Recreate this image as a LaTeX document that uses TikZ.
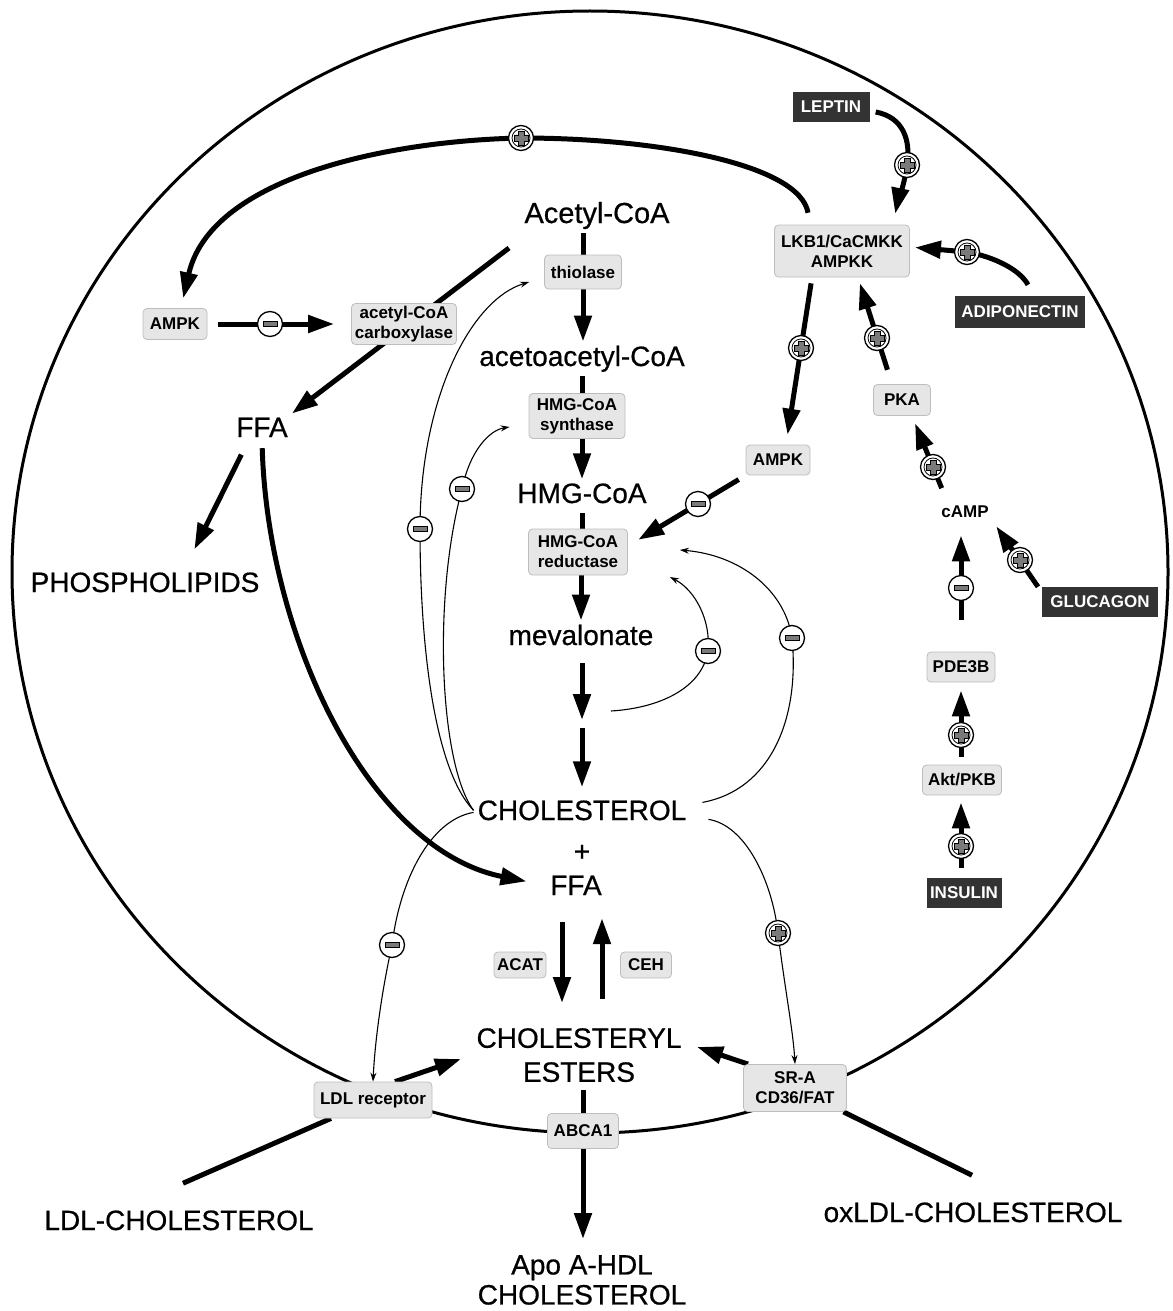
\documentclass[tikz,border=0pt]{standalone}
\usepackage{fontspec}
\setmainfont{Liberation Sans}
\newfontfamily\labfont{Liberation Sans}[FakeBold=0.6]
\usetikzlibrary{arrows.meta,calc}
\definecolor{boxfill}{HTML}{E6E6E6}
\definecolor{boxline}{HTML}{BDBDBD}
\definecolor{darkbox}{HTML}{333333}
\definecolor{markgray}{HTML}{7A7A7A}
\pgfdeclarelayer{bg}
\pgfsetlayers{bg,main}
\tikzset{
  lab/.style={font=\labfont\fontsize{28}{34}\selectfont, inner sep=4pt},
  bx/.style={draw=boxline, fill=boxfill, rounded corners=4pt, line width=0.8pt,
    font=\fontsize{17}{20}\selectfont\bfseries, align=center, inner sep=0pt},
  dbx/.style={fill=darkbox, text=white, font=\fontsize{17}{20}\selectfont\bfseries, inner sep=0pt},
  thk/.style={line width=5pt},
  thka/.style={line width=5pt, -{Triangle[length=26pt,width=17pt]}},
  thinarr/.style={line width=1.1pt, -{Stealth[length=9pt,width=6pt]}},
  membrane/.style={line width=3pt},
  plusmark/.style={circle, draw, line width=1.3pt, fill=white, minimum size=25pt, inner sep=0pt,
    path picture={
      \draw[line width=0.8pt] (path picture bounding box.center) circle[radius=9pt];
      \draw[line width=0.8pt, fill=markgray, shift={(path picture bounding box.center)}]
        (-3,-7) -- (3,-7) -- (3,-3) -- (7,-3) -- (7,3) -- (3,3) -- (3,7) -- (-3,7) -- (-3,3) -- (-7,3) -- (-7,-3) -- (-3,-3) -- cycle;}},
  minusmark/.style={circle, draw, line width=1.3pt, fill=white, minimum size=25pt, inner sep=0pt,
    path picture={
      \draw[line width=0.8pt, fill=markgray, shift={(path picture bounding box.center)}]
        (-7,-2.5) rectangle (7,2.5);}},
}
\begin{document}
\begin{tikzpicture}[x=1pt,y=-1pt]
\useasboundingbox (0,0) rectangle (1172,1311);

% ---- text labels
\node[lab, anchor=base, font=\labfont\fontsize{29}{34}\selectfont] (acetyl) at (597,223) {Acetyl-CoA};
\node[lab, anchor=base] (acac) at (582,366) {acetoacetyl-CoA};
\node[lab, anchor=base] (hmg) at (582,503) {HMG-CoA};
\node[lab, anchor=base] (mev) at (581,645) {mevalonate};
\node[lab, anchor=base] (chol) at (582,820) {CHOLESTEROL};
\node[lab, anchor=base] (plussign) at (582,861) {+};
\node[lab, anchor=base] (ffaC) at (576,895) {FFA};
\node[lab, anchor=north, align=center] (chE) at (579,1024) {CHOLESTERYL\\ESTERS};
\node[lab, anchor=north, align=center, font=\labfont\fontsize{28}{30}\selectfont] (apo) at (582,1251) {Apo A-HDL\\CHOLESTEROL};
\node[lab, anchor=base] (ffaL) at (262,437) {FFA};
\node[lab, anchor=base] (phos) at (145,592) {PHOSPHOLIPIDS};
\node[lab, anchor=base] (ldlc) at (179,1230) {LDL-CHOLESTEROL};
\node[lab, anchor=base] (oxldl) at (973,1222) {oxLDL-CHOLESTEROL};
\node[lab, anchor=base, font=\fontsize{17}{20}\selectfont\bfseries] (camp) at (965,517) {cAMP};

% ---- boxes
\node[bx, minimum width=77pt, minimum height=34pt] (thiol) at (583,272) {thiolase};
\node[bx, minimum width=96pt, minimum height=45pt] (synth) at (577,416) {HMG-CoA\\synthase};
\node[bx, minimum width=99pt, minimum height=46pt] (red) at (578,552) {HMG-CoA\\reductase};
\node[bx, minimum width=105pt, minimum height=41pt] (carb) at (404,324) {acetyl-CoA\\carboxylase};
\node[bx, minimum width=64pt, minimum height=31pt] (ampkL) at (175,324) {AMPK};
\node[bx, minimum width=135pt, minimum height=52pt] (lkb) at (842,251) {LKB1/CaCMKK\\AMPKK};
\node[dbx, minimum width=77pt, minimum height=30pt] (leptin) at (831,107) {LEPTIN};
\node[dbx, minimum width=130pt, minimum height=32pt] (adip) at (1020,312) {ADIPONECTIN};
\node[bx, minimum width=64pt, minimum height=30pt] (ampkR) at (778,460) {AMPK};
\node[bx, minimum width=57pt, minimum height=31pt] (pka) at (902,400) {PKA};
\node[dbx, minimum width=116pt, minimum height=30pt] (gluc) at (1100,602) {GLUCAGON};
\node[bx, minimum width=68pt, minimum height=30pt] (pde) at (961,667) {PDE3B};
\node[bx, minimum width=79pt, minimum height=30pt] (akt) at (962,780) {Akt/PKB};
\node[dbx, minimum width=75pt, minimum height=30pt] (ins) at (964,893) {INSULIN};
\node[bx, minimum width=52pt, minimum height=26pt] (acat) at (520,965) {ACAT};
\node[bx, minimum width=51pt, minimum height=26pt] (ceh) at (646,965) {CEH};
\node[bx, minimum width=118pt, minimum height=36pt] (ldlr) at (373,1100) {LDL receptor};
\node[bx, minimum width=103pt, minimum height=47pt] (sra) at (795,1088) {SR-A\\CD36/FAT};
\node[bx, minimum width=71pt, minimum height=35pt] (abca) at (583,1131) {ABCA1};

% ---- helper coordinates
\coordinate (gap) at (582,724);
\coordinate (acL) at (509,248);
\path ($(ffaC.south)+(-14,0)$) coordinate (acatS) ($(ffaC.south)+(26,0)$) coordinate (cehS);

% ---- markers
\node[plusmark] (m1) at (521,138) {};
\node[plusmark] (m2) at (907,165) {};
\node[plusmark] (m3) at (967,252) {};
\node[plusmark] (m4) at (801,348) {};
\node[plusmark] (m5) at (877,338) {};
\node[plusmark] (m6) at (933,467) {};
\node[plusmark] (m7) at (1020,560) {};
\node[minusmark] (m8) at (961,588) {};
\node[plusmark] (m9) at (961,735) {};
\node[plusmark] (m10) at (961,846) {};
\node[minusmark] (m11) at (270,324) {};
\node[minusmark] (m12) at (698,504) {};
\node[minusmark] (m13) at (420,529) {};
\node[minusmark] (m14) at (462,489) {};
\node[minusmark] (m15) at (708,651) {};
\node[minusmark] (m16) at (792,638) {};
\node[minusmark] (m17) at (392,945) {};
\node[plusmark] (m18) at (778,933) {};

\begin{pgfonlayer}{bg}
\draw[membrane] (590,572) ellipse [x radius=578pt, y radius=561pt];

% main pathway
\draw[thk] (thiol.north |- acetyl.south) -- (thiol.north);
\draw[thka] (thiol.south) -- (thiol.south |- acac.north);
\draw[thk] (acac.south) -- (acac.south |- synth.north);
\draw[thka] (synth.south -| hmg.north) -- (hmg.north);
\draw[thk, shorten <=6pt] (hmg.south) -- (hmg.south |- red.north);
\draw[thka] (red.south -| mev.north) -- (mev.north);
\draw[thka, shorten <=14pt] (mev.south -| gap) -- ([yshift=4pt]gap);
\draw[thka, shorten >=9pt] ([yshift=-4pt]gap) -- (gap |- chol.north);
\draw[thka, shorten <=23pt, shorten >=21pt] (acatS) -- (acatS |- chE.north);
\draw[thka, shorten <=25pt, shorten >=19pt] (cehS |- chE.north) -- (cehS);
\draw[thka, shorten <=4pt, shorten >=12pt] (chE.south -| abca.north) -- (abca.south |- apo.north);

% acetyl-CoA -> FFA
\draw[thka] (acL) -- (ffaL.north east);
\draw[thka, shorten <=15pt, shorten >=21pt] ([xshift=-14pt]ffaL.south) -- ([xshift=40pt]phos.north);
\draw[thka, shorten <=7pt, shorten >=20pt] (ffaL.south) .. controls (268,640) and (370,850) .. (ffaC.west);
\draw[thka, shorten <=11pt, shorten >=17pt] (ampkL.east) -- (carb.west);

% LKB1 arc to AMPK
\draw[thka, shorten <=12pt, shorten >=10pt] ([xshift=-32pt]lkb.north) .. controls (800,165) and (660,138) .. (521,138) .. controls (380,141) and (210,180) .. ([xshift=6pt]ampkL.north);

% hormone signalling
\draw[thka, shorten >=11pt] ([xshift=6pt,yshift=-5pt]leptin.east) .. controls (903,117) and (911,140) .. (907,165) .. controls (904,187) and (897,205) .. ([xshift=51pt]lkb.north);
\draw[thka, shorten >=5pt] ([xshift=8pt,yshift=11pt]adip.north) .. controls (1020,270) and (995,257) .. (967,252) -- ([yshift=4pt]lkb.east);
\draw[thka, shorten <=6pt, shorten >=10pt] ([xshift=-30pt]lkb.south) -- ([xshift=8pt]ampkR.north);
\draw[thka, shorten <=15pt, shorten >=6pt] ([xshift=-10pt]pka.north) -- ([xshift=16pt]lkb.south);
\draw[thka, shorten <=14pt, shorten >=8pt] ([xshift=-18pt]camp.north) -- ([xshift=10pt]pka.south);
\draw[thka, shorten >=6pt] ([xshift=-62pt]gluc.north) -- (camp.south east);
\draw[thka, shorten <=32pt, shorten >=14pt] (pde.north) -- (pde.north |- camp.south);
\draw[thka, shorten <=8pt, shorten >=8pt] (akt.north -| pde.north) -- (pde.south);
\draw[thka, shorten <=10pt, shorten >=7pt] (ins.north -| pde.north) -- (akt.south -| pde.north);
\draw[thka, shorten <=8pt, shorten >=12pt] (ampkR.south west) -- ([yshift=6pt]red.east);

% membrane transport
\draw[thk] ([xshift=4pt,yshift=23pt]ldlc.north) -- (ldlr);
\draw[thk] ([xshift=-1pt,yshift=23pt]oxldl.north) -- (sra);
\draw[thka, shorten >=12pt] ([xshift=22pt]ldlr.north) -- (chE.west);
\draw[thka, shorten >=12pt] ([xshift=-47pt]sra.north) -- ([yshift=12pt]chE.east);

% thin feedback curves
\draw[thinarr] (chol.west) .. controls (435,770) and (420,650) .. (420,529) .. controls (420,400) and (470,300) .. ([xshift=-15pt,yshift=-10pt]thiol.west);
\draw[thinarr] (chol.west) .. controls (440,765) and (432,600) .. (462,489) .. controls (470,450) and (490,430) .. ([xshift=-19pt,yshift=-11pt]synth.west);
\draw[thinarr] ([yshift=-2pt]chol.west) .. controls (430,820) and (400,880) .. (392,945) .. controls (382,990) and (375,1040) .. (ldlr.north);
\draw[thinarr] ([xshift=29pt,yshift=13pt]gap) .. controls (660,708) and (702,688) .. (708,651) .. controls (711,620) and (695,590) .. ([xshift=42pt,yshift=-25pt]red.east);
\draw[thinarr] ([xshift=12pt,yshift=8pt]chol.east) .. controls (770,790) and (800,720) .. (792,638) .. controls (785,590) and (740,555) .. ([xshift=52pt,yshift=2pt]red.east);
\draw[thinarr] ([xshift=18pt,yshift=-9pt]chol.east) .. controls (745,825) and (772,880) .. (778,933) .. controls (785,990) and (793,1030) .. (sra.north);
\end{pgfonlayer}
\end{tikzpicture}
\end{document}
